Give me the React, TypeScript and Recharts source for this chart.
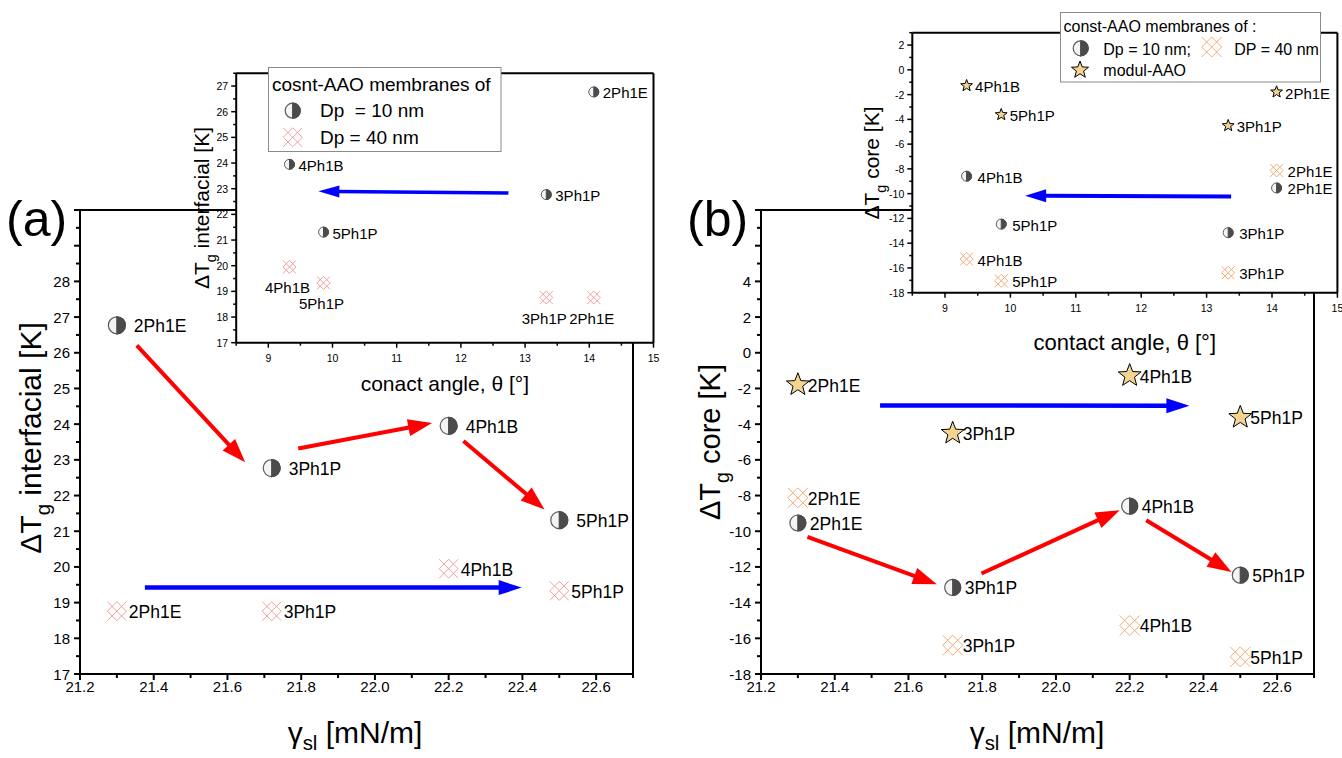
import React from 'react';
import { ScatterChart, Scatter, XAxis, YAxis, ReferenceLine, CartesianGrid, Legend } from 'recharts';

const FONT = "'Liberation Sans', Arial, Helvetica, sans-serif";
const PINK = '#f2a0a0';
const ORANGE = '#f5ad78';
const STAR_FILL = '#f3d591';
const RED = '#ff0000';
const BLUE = '#0000ff';

// ---------------- data ----------------
const samples = ['2Ph1E', '3Ph1P', '4Ph1B', '5Ph1P'];
const gammaSL = [21.3, 21.72, 22.2, 22.5];
const contactAngle = [14.07, 13.33, 9.33, 9.86];
const dTgInterfacialDp10 = [26.77, 22.77, 23.95, 21.31];
const dTgInterfacialDp40 = [18.76, 18.76, 19.95, 19.33];
const dTgCoreDp10 = [-9.54, -13.15, -8.59, -12.46];
const dTgCoreDp40 = [-8.13, -16.39, -15.28, -17.04];
const dTgCoreModul = [-1.79, -4.51, -1.28, -3.62];

// arrows: [x1, y1, x2, y2] in data units
const interfacialMainRedArrows = [
  [21.354, 26.21, 21.648, 22.93],
  [21.792, 23.32, 22.155, 24.03],
  [22.24, 23.53, 22.46, 21.61],
];
const interfacialMainBlueArrows = [[21.376, 19.42, 22.398, 19.42]];
const interfacialInsetBlueArrows = [[12.74, 22.83, 9.78, 22.9]];
const coreMainRedArrows = [
  [21.326, -10.32, 21.677, -12.97],
  [21.798, -12.37, 22.173, -8.82],
  [22.245, -9.38, 22.476, -12.28],
];
const coreMainBlueArrows = [[21.523, -2.95, 22.362, -2.97]];
const coreInsetBlueArrows = [[13.375, -10.23, 10.225, -10.17]];

// ---------------- ticks ----------------
const range = (a: number, b: number, step: number) => {
  const out: number[] = [];
  for (let i = 0; a + i * step <= b + 1e-9; i++) out.push(Math.round((a + i * step) * 100) / 100);
  return out;
};
const gammaTicks = range(21.2, 22.7, 0.1);
const gammaLabels = [21.2, 21.4, 21.6, 21.8, 22.0, 22.2, 22.4, 22.6];
const interfacialTicks = range(17, 30, 0.5);
const interfacialMajors = range(17, 30, 1);
const interfacialLabels = [17, 18, 19, 20, 21, 22, 23, 24, 25, 26, 27, 28];
const coreTicks = range(-18, 8, 1);
const coreMajors = range(-18, 8, 2);
const coreLabels = [-18, -16, -14, -12, -10, -8, -6, -4, -2, 0, 2, 4];
const angleTicks = range(8.5, 15, 0.5);
const angleLabels = [9, 10, 11, 12, 13, 14, 15];
const insetInterfacialTicks = range(17, 27.5, 0.5);
const insetInterfacialLabels = [17, 18, 19, 20, 21, 22, 23, 24, 25, 26, 27];
const insetCoreTicks = range(-18, 3, 1);
const insetCoreLabels = [-18, -16, -14, -12, -10, -8, -6, -4, -2, 0, 2];

const toPoints = (xs: number[], ys: number[]) => samples.map((name, i) => ({ name, x: xs[i], y: ys[i] }));

// ---------------- markers ----------------
function HalfCircle({ cx, cy, r, sw = 1.2 }: any) {
  return (
    <g>
      <circle cx={cx} cy={cy} r={r} fill="#f4f4f4" stroke="#5c5c5c" strokeWidth={sw} />
      <path d={`M${cx},${cy - r} A${r},${r} 0 0 1 ${cx},${cy + r} Z`} fill="#4b4b4b" stroke="#4b4b4b" strokeWidth={sw} />
    </g>
  );
}
function CrossHatch({ cx, cy, r, color, sw = 1 }: any) {
  const segs = [
    [-r, -r, r, r], [-r, 0, 0, r], [0, -r, r, 0],
    [-r, r, r, -r], [-r, 0, 0, -r], [0, r, r, 0],
  ];
  return (
    <g stroke={color} strokeWidth={sw} fill="none">
      {segs.map((s, i) => (
        <line key={i} x1={cx + s[0]} y1={cy + s[1]} x2={cx + s[2]} y2={cy + s[3]} />
      ))}
    </g>
  );
}
function Star({ cx, cy, R, sw = 1 }: any) {
  const pts: string[] = [];
  for (let i = 0; i < 10; i++) {
    const a = -Math.PI / 2 + (i * Math.PI) / 5;
    const rr = i % 2 === 0 ? R : R * 0.42;
    pts.push(`${cx + rr * Math.cos(a)},${cy + rr * Math.sin(a)}`);
  }
  return <polygon points={pts.join(' ')} fill={STAR_FILL} stroke="#000" strokeWidth={sw} />;
}
function Marker({ kind, cx, cy, s }: any) {
  if (kind === 'half') return <HalfCircle cx={cx} cy={cy} r={s} sw={s > 6 ? 1.2 : 1} />;
  if (kind === 'pink') return <CrossHatch cx={cx} cy={cy} r={s} color={PINK} />;
  if (kind === 'orange') return <CrossHatch cx={cx} cy={cy} r={s} color={ORANGE} />;
  return <Star cx={cx} cy={cy} R={s} />;
}
function pointShape(kind: string, s: number, font: number, dx: number, dy: number, anchor: string) {
  return (p: any) => (
    <g>
      <Marker kind={kind} cx={p.cx} cy={p.cy} s={s} />
      <text x={p.cx + dx} y={p.cy + dy} textAnchor={anchor} dominantBaseline="central" fontSize={font} fontFamily={FONT} fill="#000">
        {p.payload.name}
      </text>
    </g>
  );
}

// ---------------- arrows ----------------
function arrowShape(color: string, w: number, headLen: number, headW: number) {
  return (p: any) => {
    const { x1, y1, x2, y2 } = p;
    const dx = x2 - x1;
    const dy = y2 - y1;
    const L = Math.hypot(dx, dy) || 1;
    const ux = dx / L;
    const uy = dy / L;
    const bx = x2 - ux * headLen;
    const by = y2 - uy * headLen;
    const px = -uy;
    const py = ux;
    return (
      <g>
        <line x1={x1} y1={y1} x2={bx + ux * 2} y2={by + uy * 2} stroke={color} strokeWidth={w} />
        <polygon
          points={`${x2},${y2} ${bx + (px * headW) / 2},${by + (py * headW) / 2} ${bx - (px * headW) / 2},${by - (py * headW) / 2}`}
          fill={color}
        />
      </g>
    );
  };
}
function arrowLines(list: number[][], color: string, w: number, hl: number, hw: number, key: string) {
  return list.map((a, i) => (
    <ReferenceLine
      key={key + i}
      segment={[{ x: a[0], y: a[1] }, { x: a[2], y: a[3] }]}
      ifOverflow="visible"
      shape={arrowShape(color, w, hl, hw)}
    />
  ));
}

// ---------------- ticks ----------------
const has = (arr: number[], v: number) => arr.some((a) => Math.abs(a - v) < 1e-6);
function makeTick(side: string, majors: number[], labels: number[], majorLen: number, minorLen: number, font: number, gap: number, digits: number, sw: number) {
  return (props: any) => {
    const { x, y, payload } = props;
    const v = Number(payload.value);
    const len = has(majors, v) ? majorLen : minorLen;
    const label = has(labels, v) ? v.toFixed(digits) : null;
    if (side === 'bottom') {
      return (
        <g>
          <line x1={x} y1={y} x2={x} y2={y + len} stroke="#000" strokeWidth={sw} />
          {label !== null && (
            <text x={x} y={y + gap} textAnchor="middle" dominantBaseline="central" fontSize={font} fontFamily={FONT} fill="#000">
              {label}
            </text>
          )}
        </g>
      );
    }
    return (
      <g>
        <line x1={x} y1={y} x2={x - len} y2={y} stroke="#000" strokeWidth={sw} />
        {label !== null && (
          <text x={x - gap} y={y} textAnchor="end" dominantBaseline="central" fontSize={font} fontFamily={FONT} fill="#000">
            {label}
          </text>
        )}
      </g>
    );
  };
}

const axisLine = { stroke: '#000', strokeWidth: 2 };

function YTitle({ cx, cy, size, rest }: any) {
  const sub = size * 0.68;
  const shift = size * 0.3;
  const by = cy + size * 0.35;
  return (
    <text x={cx} y={by} transform={`rotate(-90 ${cx} ${cy})`} textAnchor="middle" fontSize={size} fontFamily={FONT} fill="#000">
      ΔT<tspan fontSize={sub} dy={shift}>g</tspan>
      <tspan dy={-shift}>{rest}</tspan>
    </text>
  );
}
function GammaTitle({ cx, baseline, size }: any) {
  const sub = size * 0.68;
  const shift = size * 0.22;
  return (
    <text x={cx} y={baseline} textAnchor="middle" fontSize={size} fontFamily={FONT} fill="#000">
      γ<tspan fontSize={sub} dy={shift}>sl</tspan>
      <tspan dy={-shift}> [mN/m]</tspan>
    </text>
  );
}

// ---------------- legends ----------------
function LeftLegend() {
  return (
    <svg width={234} height={86} style={{ display: 'block' }}>
      <rect x={0.5} y={0.5} width={232.5} height={84} fill="#fff" stroke="#8a8a8a" strokeWidth={1} />
      <text x={4} y={24} fontSize={19} fontFamily={FONT} fill="#000">cosnt-AAO membranes of</text>
      <HalfCircle cx={24.7} cy={43.7} r={7.5} />
      <text x={52} y={50} fontSize={19} fontFamily={FONT} fill="#000" style={{ whiteSpace: 'pre' }}>Dp  = 10 nm</text>
      <CrossHatch cx={24.7} cy={70.3} r={9.5} color={PINK} />
      <text x={52} y={77} fontSize={19} fontFamily={FONT} fill="#000">Dp = 40 nm</text>
    </svg>
  );
}
function RightLegend() {
  return (
    <svg width={262} height={72} style={{ display: 'block' }}>
      <rect x={0.5} y={0.5} width={260} height={69.5} fill="#fff" stroke="#8a8a8a" strokeWidth={1} />
      <text x={3.5} y={19.5} fontSize={16} fontFamily={FONT} fill="#000">const-AAO membranes of :</text>
      <HalfCircle cx={20.7} cy={36.3} r={7.5} />
      <text x={43.3} y={43} fontSize={16} fontFamily={FONT} fill="#000">Dp = 10 nm;</text>
      <CrossHatch cx={151.7} cy={35} r={10} color={ORANGE} />
      <text x={174.3} y={43} fontSize={16} fontFamily={FONT} fill="#000">DP = 40 nm</text>
      <Star cx={20} cy={58} R={9} />
      <text x={43.3} y={64} fontSize={16} fontFamily={FONT} fill="#000">modul-AAO</text>
    </svg>
  );
}

const layer: React.CSSProperties = { position: 'absolute', left: 0, top: 0 };
const W = 1342;
const H = 758;

export default function App() {
  const mainXTick = makeTick('bottom', gammaLabels, gammaLabels, 6, 4, 15, 12, 1, 2);
  const mainYTickI = makeTick('left', interfacialMajors, interfacialLabels, 6, 4, 15, 10, 0, 2);
  const mainYTickC = makeTick('left', coreMajors, coreLabels, 6, 4, 15, 10, 0, 2);
  const insetXTick = makeTick('bottom', angleLabels, angleLabels, 5, 3, 10.5, 15.5, 0, 1.5);
  const insetYTickI = makeTick('left', insetInterfacialLabels, insetInterfacialLabels, 5, 3, 10.5, 8, 0, 1.5);
  const insetYTickC = makeTick('left', insetCoreLabels, insetCoreLabels, 5, 3, 10.5, 8, 0, 1.5);

  return (
    <div style={{ position: 'absolute', left: 0, top: 0, width: W, height: H, background: '#fff', fontFamily: FONT, overflow: 'hidden' }}>
      {/* ---------- (a) main ---------- */}
      <div style={layer}>
        <ScatterChart width={W} height={H} margin={{ top: 210, right: 709, bottom: 0, left: 0 }}>
          <XAxis type="number" dataKey="x" domain={[21.2, 22.7]} ticks={gammaTicks} interval={0} tickSize={0} tickMargin={0} tickLine={false} tick={mainXTick} axisLine={axisLine} height={84} allowDataOverflow />
          <YAxis type="number" dataKey="y" domain={[17, 30]} ticks={interfacialTicks} interval={0} tickSize={0} tickMargin={0} tickLine={false} tick={mainYTickI} axisLine={axisLine} width={80} allowDataOverflow />
          <ReferenceLine y={30} stroke="#000" strokeWidth={2} />
          <ReferenceLine x={22.7} stroke="#000" strokeWidth={2} />
          {arrowLines(interfacialMainRedArrows, RED, 4, 24, 17, 'ir')}
          {arrowLines(interfacialMainBlueArrows, BLUE, 4.5, 23, 15, 'ib')}
          <Scatter data={toPoints(gammaSL, dTgInterfacialDp10)} shape={pointShape('half', 8.5, 17.5, 17, 1, 'start')} isAnimationActive={false} />
          <Scatter data={toPoints(gammaSL, dTgInterfacialDp40)} shape={pointShape('pink', 9.5, 17.5, 12, 1, 'start')} isAnimationActive={false} />
          <text x={6} y={236} fontSize={50} fontFamily={FONT} fill="#000">(a)</text>
          <YTitle cx={30} cy={438} size={30} rest=" interfacial [K]" />
          <GammaTitle cx={355} baseline={743} size={30} />
        </ScatterChart>
      </div>

      {/* ---------- (b) main ---------- */}
      <div style={layer}>
        <ScatterChart width={W} height={H} margin={{ top: 210, right: 28, bottom: 0, left: 680 }}>
          <XAxis type="number" dataKey="x" domain={[21.2, 22.7]} ticks={gammaTicks} interval={0} tickSize={0} tickMargin={0} tickLine={false} tick={mainXTick} axisLine={axisLine} height={84} allowDataOverflow />
          <YAxis type="number" dataKey="y" domain={[-18, 8]} ticks={coreTicks} interval={0} tickSize={0} tickMargin={0} tickLine={false} tick={mainYTickC} axisLine={axisLine} width={81} allowDataOverflow />
          <ReferenceLine y={8} stroke="#000" strokeWidth={2} />
          <ReferenceLine x={22.7} stroke="#000" strokeWidth={2} />
          {arrowLines(coreMainRedArrows, RED, 4, 24, 17, 'cr')}
          {arrowLines(coreMainBlueArrows, BLUE, 4.5, 23, 15, 'cb')}
          <Scatter data={toPoints(gammaSL, dTgCoreModul)} shape={pointShape('star', 12, 17.5, 10, 1, 'start')} isAnimationActive={false} />
          <Scatter data={toPoints(gammaSL, dTgCoreDp10)} shape={pointShape('half', 8, 17.5, 12, 1, 'start')} isAnimationActive={false} />
          <Scatter data={toPoints(gammaSL, dTgCoreDp40)} shape={pointShape('orange', 10, 17.5, 10, 1, 'start')} isAnimationActive={false} />
          <text x={687} y={236} fontSize={50} fontFamily={FONT} fill="#000">(b)</text>
          <YTitle cx={710} cy={442} size={29} rest=" core [K]" />
          <GammaTitle cx={1037} baseline={743} size={30} />
        </ScatterChart>
      </div>

      {/* ---------- (a) inset ---------- */}
      <div style={layer}>
        <ScatterChart width={W} height={H} margin={{ top: 73.2, right: 688.5, bottom: 355.3, left: 196.2 }}>
          <CartesianGrid fill="#ffffff" fillOpacity={1} horizontal={false} vertical={false} stroke="none" />
          <XAxis type="number" dataKey="x" domain={[8.5, 15]} ticks={angleTicks} interval={0} tickSize={0} tickMargin={0} tickLine={false} tick={insetXTick} axisLine={axisLine} height={60} allowDataOverflow />
          <YAxis type="number" dataKey="y" domain={[17, 27.5]} ticks={insetInterfacialTicks} interval={0} tickSize={0} tickMargin={0} tickLine={false} tick={insetYTickI} axisLine={axisLine} width={40} allowDataOverflow />
          <ReferenceLine y={27.5} stroke="#000" strokeWidth={2} />
          <ReferenceLine x={15} stroke="#000" strokeWidth={2} />
          {arrowLines(interfacialInsetBlueArrows, BLUE, 3.5, 21, 12, 'iib')}
          <Scatter data={toPoints(contactAngle, dTgInterfacialDp10)} shape={pointShape('half', 5, 15, 9, 1, 'start')} isAnimationActive={false} />
          <Scatter data={toPoints(contactAngle, dTgInterfacialDp40)} shape={pointShape('pink', 6.5, 15, -2, 21, 'middle')} isAnimationActive={false} />
          <YTitle cx={202} cy={208} size={21} rest=" interfacial [K]" />
          <text x={444.8} y={391} textAnchor="middle" fontSize={21} fontFamily={FONT} fill="#000">conact angle, θ [°]</text>
          <Legend
            layout="horizontal"
            verticalAlign="middle"
            align="center"
            wrapperStyle={{ position: 'absolute', left: 268, top: 67, width: 234, height: 86, margin: 0, padding: 0 }}
            content={() => <LeftLegend />}
          />
        </ScatterChart>
      </div>

      {/* ---------- (b) inset ---------- */}
      <div style={layer}>
        <ScatterChart width={W} height={H} margin={{ top: 32.7, right: 4.6, bottom: 405.3, left: 872.3 }}>
          <CartesianGrid fill="#ffffff" fillOpacity={1} horizontal={false} vertical={false} stroke="none" />
          <XAxis type="number" dataKey="x" domain={[8.5, 15]} ticks={angleTicks} interval={0} tickSize={0} tickMargin={0} tickLine={false} tick={insetXTick} axisLine={axisLine} height={60} allowDataOverflow />
          <YAxis type="number" dataKey="y" domain={[-18, 3]} ticks={insetCoreTicks} interval={0} tickSize={0} tickMargin={0} tickLine={false} tick={insetYTickC} axisLine={axisLine} width={40} allowDataOverflow />
          <ReferenceLine y={3} stroke="#000" strokeWidth={2} />
          <ReferenceLine x={15} stroke="#000" strokeWidth={2} />
          {arrowLines(coreInsetBlueArrows, BLUE, 4, 21, 13, 'cib')}
          <Scatter data={toPoints(contactAngle, dTgCoreModul)} shape={pointShape('star', 6.2, 15, 8.5, 1, 'start')} isAnimationActive={false} />
          <Scatter data={toPoints(contactAngle, dTgCoreDp10)} shape={pointShape('half', 5, 15, 11, 1, 'start')} isAnimationActive={false} />
          <Scatter data={toPoints(contactAngle, dTgCoreDp40)} shape={pointShape('orange', 6.5, 15, 11, 1, 'start')} isAnimationActive={false} />
          <YTitle cx={872} cy={163} size={21} rest=" core [K]" />
          <text x={1124.8} y={350} textAnchor="middle" fontSize={22} fontFamily={FONT} fill="#000">contact angle, θ [°]</text>
          <Legend
            layout="horizontal"
            verticalAlign="middle"
            align="center"
            wrapperStyle={{ position: 'absolute', left: 1060, top: 12, width: 262, height: 72, margin: 0, padding: 0 }}
            content={() => <RightLegend />}
          />
        </ScatterChart>
      </div>
    </div>
  );
}
